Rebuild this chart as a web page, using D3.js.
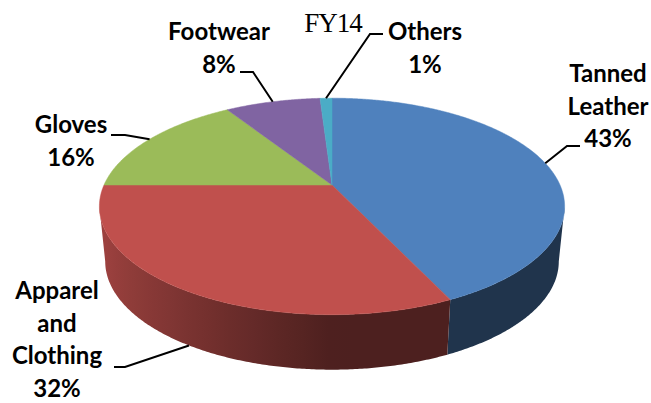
<!DOCTYPE html>
<html>
<head>
<meta charset="utf-8">
<script src="https://cdn.jsdelivr.net/npm/d3@7"></script>
<style>
  body { margin: 0; background: #fff; }
  svg { display: block; }
</style>
</head>
<body>
<div id="chart"></div>
<script>
// FY14 3D pie

var title = "FY14";
var categories = ["Tanned Leather", "Apparel and Clothing", "Gloves", "Footwear", "Others"];
var nameLines = [["Tanned", "Leather"], ["Apparel", "and", "Clothing"], ["Gloves"], ["Footwear"], ["Others"]];
var shares = [43, 32, 16, 8, 1];
var colors = ["#4f81bd", "#c0504d", "#9bbb59", "#8064a2", "#4bacc6"];

var width = 651,
    height = 403;

// perspective of the disc
var P = { cx: 332, cy: 185, A: 228, B: 104, p: 0.198, depth: 55, shrink: 0.975 };

function topPt(phi) {
    var u = Math.sin(phi), v = -Math.cos(phi), w = 1 - P.p * v;
    return [P.cx + P.A * u / w, P.cy + P.B * v / w];
}
function botPt(phi) {
    var t = topPt(phi);
    return [P.cx + (t[0] - P.cx) * P.shrink, t[1] + P.depth];
}
function arcPts(f, a0, a1) {
    var n = Math.max(2, Math.ceil(Math.abs(a1 - a0) / (Math.PI / 360)));
    return d3.range(n + 1).map(function(k) { return f(a0 + (a1 - a0) * k / n); });
}

// label layout: centre x, first baseline, leader text-end and elbow, which edge
var labelPos = [
    { x: 608, y: 82, from: [580, 146], elbow: [567, 146], edge: "top" },
    { x: 57, y: 299, from: [114, 367], elbow: [125, 367], edge: "bot" },
    { x: 71, y: 133, from: [111, 135], elbow: [125, 135], edge: "top" },
    { x: 219, y: 40, from: [240, 72], elbow: [253, 72], edge: "top" },
    { x: 425, y: 40, from: [383, 34], elbow: [370, 34], edge: "top" }
];
var lineH = 32.7;

var svg = d3.select("#chart")
    .append("svg")
    .attr("width", width)
    .attr("height", height);
var defs = svg.append("defs");

var arcs = d3.pie().sort(null).value(function(d) { return d; })(shares);

var shade = function(phi) {
    return 0.4 + 0.45 * Math.max(0, -Math.sin(phi));
};

// visible side between the two silhouette angles
var lo = Math.acos(-P.p), hi = 2 * Math.PI - Math.acos(-P.p);

var sides = svg.append("g");
arcs.forEach(function(a, i) {
    var s = Math.max(a.startAngle, lo), e = Math.min(a.endAngle, hi);
    if (e <= s) return;
    var base = d3.rgb(colors[i]);
    var xs = d3.range(21).map(function(k) {
        var phi = s + (e - s) * k / 20;
        return { x: topPt(phi)[0], f: shade(phi) };
    }).sort(function(m, n) { return m.x - n.x; });
    var x1 = xs[0].x, x2 = xs[xs.length - 1].x;
    var g = defs.append("linearGradient")
        .attr("id", "side" + i)
        .attr("gradientUnits", "userSpaceOnUse")
        .attr("x1", x1).attr("x2", x2).attr("y1", 0).attr("y2", 0);
    xs.forEach(function(d) {
        g.append("stop")
            .attr("offset", (d.x - x1) / (x2 - x1))
            .attr("stop-color", d3.rgb(base.r * d.f, base.g * d.f, base.b * d.f).toString());
    });
    var pts = arcPts(topPt, s, e).concat(arcPts(botPt, e, s));
    sides.append("path")
        .attr("d", d3.line()(pts) + "Z")
        .attr("fill", "url(#side" + i + ")");
});

// top faces
svg.append("g").selectAll("path")
    .data(arcs)
    .join("path")
    .attr("d", function(a) {
        var pts = [[P.cx, P.cy]].concat(arcPts(topPt, a.startAngle, a.endAngle));
        return d3.line()(pts) + "Z";
    })
    .attr("fill", function(a, i) { return colors[i]; })
    .attr("stroke", function(a, i) { return colors[i]; })
    .attr("stroke-width", 0.5);

// leaders
svg.append("g").selectAll("path")
    .data(arcs)
    .join("path")
    .attr("d", function(a, i) {
        var L = labelPos[i], mid = (a.startAngle + a.endAngle) / 2;
        var end = L.edge === "bot" ? botPt(mid) : topPt(mid);
        return d3.line()([L.from, L.elbow, end]);
    })
    .attr("fill", "none")
    .attr("stroke", "#000")
    .attr("stroke-width", 2);

// labels
var labels = svg.append("g")
    .attr("font-family", "Lato, 'Open Sans', sans-serif")
    .attr("font-weight", 700)
    .attr("font-size", 24)
    .attr("text-anchor", "middle")
    .attr("fill", "#000");

arcs.forEach(function(a, i) {
    var lines = nameLines[i].concat([shares[i] + "%"]);
    var txt = labels.append("text").attr("x", labelPos[i].x).attr("y", labelPos[i].y);
    lines.forEach(function(s, k) {
        txt.append("tspan")
            .attr("x", labelPos[i].x)
            .attr("y", labelPos[i].y + k * lineH)
            .text(s);
    });
});

svg.append("text")
    .attr("x", 333)
    .attr("y", 32)
    .attr("text-anchor", "middle")
    .attr("font-family", "'Liberation Serif', 'Times New Roman', serif")
    .attr("font-size", 27)
    .attr("letter-spacing", -1)
    .text(title);
</script>
</body>
</html>
